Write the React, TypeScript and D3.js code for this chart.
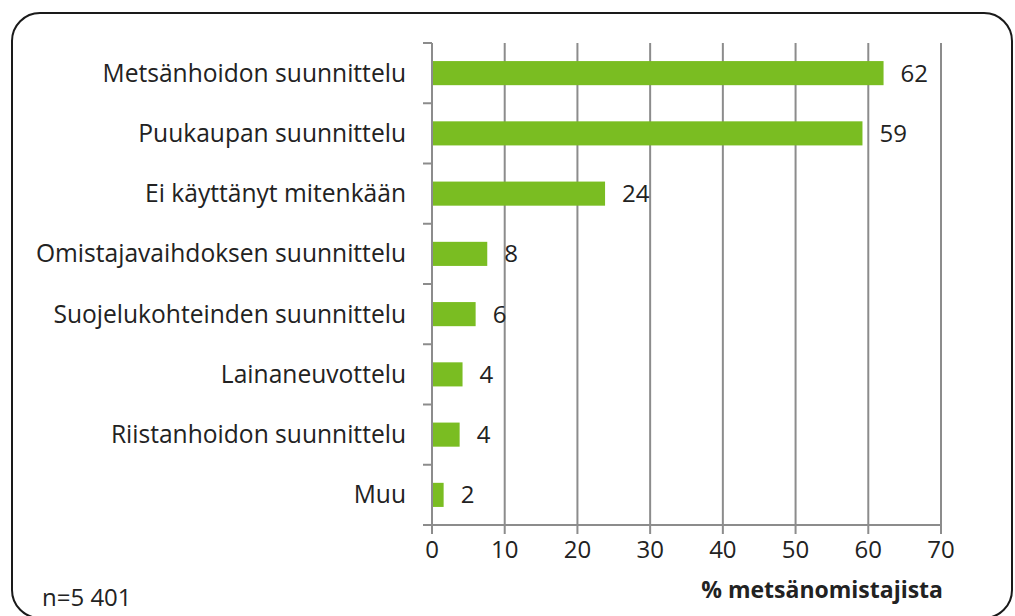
import * as d3 from "d3";

const categories = [
  "Metsänhoidon suunnittelu",
  "Puukaupan suunnittelu",
  "Ei käyttänyt mitenkään",
  "Omistajavaihdoksen suunnittelu",
  "Suojelukohteinden suunnittelu",
  "Lainaneuvottelu",
  "Riistanhoidon suunnittelu",
  "Muu",
];
const values = [62, 59, 24, 8, 6, 4, 4, 2];
// bar ends are a touch off the rounded labels in the original
const barLengths = [62.1, 59.2, 23.8, 7.6, 6.0, 4.2, 3.8, 1.6];
const xTicks = [0, 10, 20, 30, 40, 50, 60, 70];

const W = 1015;
const H = 616;
const FONT = "'Open Sans', Lato, sans-serif";
const GRID = "#8c8c8c";
const GREEN = "#7abd22";
const INK = "#222";

const App = () => {
  const x = d3.scaleLinear().domain([0, 70]).range([432, 941]);
  const y = d3.scaleBand().domain(categories).range([43, 525]).paddingInner(0.6).paddingOuter(0.3);
  const band = d3.scaleBand().domain(categories).range([43, 525]);

  return (
    <svg width={W} height={H} style={{ position: "absolute", left: 0, top: 0 }} fontFamily={FONT}>
      <rect x={0} y={0} width={W} height={H} fill="#fff" />
      <rect x={12} y={13} width={1000} height={605} rx={28} ry={28} fill="none" stroke="#1a1a1a" strokeWidth={2} />

      {/* vertical gridlines */}
      {xTicks.map((t) => (
        <line key={"g" + t} x1={x(t)} x2={x(t)} y1={43} y2={534} stroke={GRID} strokeWidth={2} />
      ))}

      {/* y axis ticks at band edges */}
      {categories.map((c) => (
        <line key={"yt" + c} x1={423} x2={432} y1={band(c)} y2={band(c)} stroke={GRID} strokeWidth={2} />
      ))}
      <line x1={423} x2={432} y1={525} y2={525} stroke={GRID} strokeWidth={2} />
      <line x1={432} x2={941} y1={525} y2={525} stroke={GRID} strokeWidth={2} />

      {/* bars */}
      {categories.map((c, i) => (
        <rect key={"b" + c} x={x(0) + 1} y={y(c)} width={x(barLengths[i]) - x(0) - 1} height={y.bandwidth()} fill={GREEN} />
      ))}

      {/* value labels */}
      {categories.map((c, i) => (
        <text key={"v" + c} x={x(barLengths[i]) + 17} y={(y(c) as number) + y.bandwidth() / 2} dy="0.35em" fontSize={24} fill={INK}>
          {values[i]}
        </text>
      ))}

      {/* category labels */}
      {categories.map((c) => (
        <text key={"c" + c} x={406} y={(y(c) as number) + y.bandwidth() / 2} dy="0.35em" textAnchor="end" fontSize={24.6} fill={INK}>
          {c}
        </text>
      ))}

      {/* x tick labels */}
      {xTicks.map((t) => (
        <text key={"xl" + t} x={x(t)} y={558} textAnchor="middle" fontSize={24} fill={INK}>
          {t}
        </text>
      ))}

      <text x={943} y={598} textAnchor="end" fontSize={23} fontWeight="bold" fill={INK}>
        % metsänomistajista
      </text>
      <text x={42} y={606} fontSize={24} fill={INK}>
        n=5 401
      </text>
    </svg>
  );
};

export default App;
